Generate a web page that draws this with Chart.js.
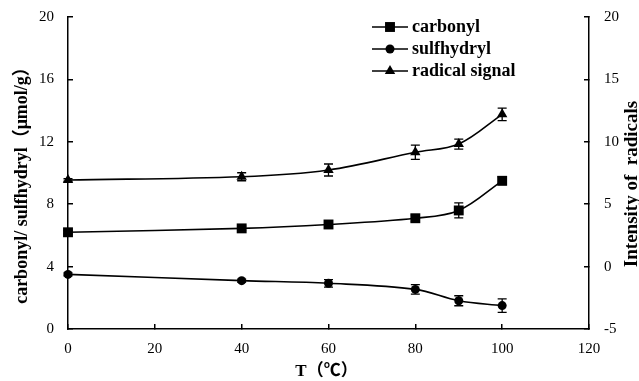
<!DOCTYPE html>
<html>
<head>
<meta charset="utf-8">
<script src="https://cdn.jsdelivr.net/npm/chart.js@4/dist/chart.umd.min.js"></script>
<style>
  html, body { margin: 0; padding: 0; background: #fff; }
  #wrap { width: 639px; height: 381px; }
</style>
</head>
<body>
<div id="wrap"><canvas id="chart"></canvas></div>
<script>
const temps = [0, 40, 60, 80, 90, 100];

const carbonyl = [6.2, 6.45, 6.7, 7.1, 7.6, 9.5];
const carbonylErr = [0.1, 0.15, 0.15, 0.2, 0.48, 0.25];

const sulfhydryl = [3.5, 3.1, 2.93, 2.54, 1.81, 1.5];
const sulfhydrylErr = [0.1, 0.1, 0.24, 0.3, 0.32, 0.43];

const radical = [6.94, 7.2, 7.74, 9.16, 9.82, 12.2];
const radicalErr = [0.1, 0.32, 0.48, 0.57, 0.4, 0.5];

const leftTicks = [0, 4, 8, 12, 16, 20];
const rightTicks = [-5, 0, 5, 10, 15, 20];
const xTicks = [0, 20, 40, 60, 80, 100, 120];

const serif = "'Liberation Serif', 'Times New Roman', 'Noto Sans CJK SC', serif";

const toPoints = vals => vals.map((v, i) => ({ x: temps[i], y: v }));

const series = [
  { label: 'carbonyl', data: carbonyl, err: carbonylErr, axis: 'y', style: 'rect', radius: 7 },
  { label: 'sulfhydryl', data: sulfhydryl, err: sulfhydrylErr, axis: 'y', style: 'circle', radius: 4.5 },
  { label: 'radical signal', data: radical, err: radicalErr, axis: 'y1', style: 'triangle', radius: 6 }
];

// error bars drawn through each dataset's own scale
const errorBars = {
  id: 'errorBars',
  afterDatasetsDraw(chart) {
    const ctx = chart.ctx;
    ctx.save();
    ctx.strokeStyle = '#000';
    ctx.lineWidth = 1.3;
    chart.data.datasets.forEach((ds, i) => {
      const meta = chart.getDatasetMeta(i);
      const ys = chart.scales[ds.yAxisID];
      meta.data.forEach((pt, j) => {
        const e = ds.errors[j];
        if (!e) return;
        const v = ds.data[j].y;
        const top = ys.getPixelForValue(v + e);
        const bot = ys.getPixelForValue(v - e);
        ctx.beginPath();
        ctx.moveTo(pt.x, top); ctx.lineTo(pt.x, bot);
        ctx.moveTo(pt.x - 4.5, top); ctx.lineTo(pt.x + 4.5, top);
        ctx.moveTo(pt.x - 4.5, bot); ctx.lineTo(pt.x + 4.5, bot);
        ctx.stroke();
      });
    });
    ctx.restore();
  }
};

function marker(ctx, style, x, y, r) {
  ctx.beginPath();
  if (style === 'rect') {
    const s = r * Math.SQRT1_2;
    ctx.rect(x - s, y - s, 2 * s, 2 * s);
  } else if (style === 'circle') {
    ctx.arc(x, y, r, 0, Math.PI * 2);
  } else {
    ctx.moveTo(x, y - r);
    ctx.lineTo(x + r * Math.sin(Math.PI / 3), y + r / 2);
    ctx.lineTo(x - r * Math.sin(Math.PI / 3), y + r / 2);
    ctx.closePath();
  }
  ctx.fill();
}

// legend inside the plot plus the three axis titles
const decor = {
  id: 'decor',
  afterDraw(chart) {
    const ctx = chart.ctx;
    const a = chart.chartArea;
    ctx.save();
    ctx.fillStyle = '#000';
    ctx.strokeStyle = '#000';

    const lx = a.left + 304;
    series.forEach((s, i) => {
      const y = a.top + 10 + i * 22;
      ctx.lineWidth = 1.6;
      ctx.beginPath();
      ctx.moveTo(lx, y); ctx.lineTo(lx + 36, y);
      ctx.stroke();
      marker(ctx, s.style, lx + 18, y, s.radius);
      ctx.font = 'bold 18px ' + serif;
      ctx.textAlign = 'left';
      ctx.textBaseline = 'middle';
      ctx.fillText(s.label, lx + 40, y);
    });

    ctx.textAlign = 'center';
    ctx.textBaseline = 'middle';
    ctx.font = 'bold 17px ' + serif;
    ctx.fillText('T（℃）', (a.left + a.right) / 2 - 2, chart.height - 9);

    ctx.save();
    ctx.font = 'bold 18px ' + serif;
    ctx.translate(22, (a.top + a.bottom) / 2 + 8);
    ctx.rotate(-Math.PI / 2);
    ctx.fillText('carbonyl/ sulfhydryl（μmol/g）', 0, 0);
    ctx.restore();

    ctx.save();
    ctx.font = 'bold 19px ' + serif;
    ctx.translate(chart.width - 7, (a.top + a.bottom) / 2 + 11);
    ctx.rotate(-Math.PI / 2);
    ctx.fillText('Intensity of  radicals', 0, 0);
    ctx.restore();

    ctx.restore();
  }
};

const axisBase = {
  border: { display: true, color: '#000', width: 1.5 },
  grid: { display: true, drawOnChartArea: false, drawTicks: true, tickLength: -5, color: '#000', lineWidth: 1.5 },
  ticks: { color: '#000', font: { family: serif, size: 15 } }
};

const fitY = w => s => { s.width = w; s.paddingTop = 0; s.paddingBottom = 0; };

new Chart(document.getElementById('chart'), {
  type: 'line',
  data: {
    datasets: series.map(s => ({
      label: s.label,
      data: toPoints(s.data),
      errors: s.err,
      yAxisID: s.axis,
      borderColor: '#000',
      backgroundColor: '#000',
      borderWidth: 1.6,
      pointStyle: s.style,
      pointRadius: s.radius,
      pointBorderWidth: 0,
      tension: 0.35,
      fill: false,
      clip: false
    }))
  },
  options: {
    responsive: true,
    maintainAspectRatio: false,
    animation: false,
    layout: { padding: { top: 17, right: 0, left: 0, bottom: 0 } },
    plugins: { legend: { display: false }, tooltip: { enabled: false } },
    scales: {
      x: {
        type: 'linear', position: 'bottom', min: 0, max: 120,
        ...axisBase,
        ticks: { ...axisBase.ticks, padding: 16, stepSize: 20,
          callback: v => xTicks.includes(v) ? v : null },
        afterFit: s => { s.height = 52; s.paddingLeft = 0; s.paddingRight = 0; }
      },
      y: {
        type: 'linear', position: 'left', min: 0, max: 20,
        ...axisBase,
        ticks: { ...axisBase.ticks, padding: 19, stepSize: 4,
          callback: v => leftTicks.includes(v) ? v : null },
        afterFit: fitY(68)
      },
      y1: {
        type: 'linear', position: 'right', min: -5, max: 20,
        ...axisBase,
        ticks: { ...axisBase.ticks, padding: 20, stepSize: 5,
          callback: v => rightTicks.includes(v) ? v : null },
        afterFit: fitY(50)
      }
    }
  },
  plugins: [errorBars, decor]
});
</script>
</body>
</html>
